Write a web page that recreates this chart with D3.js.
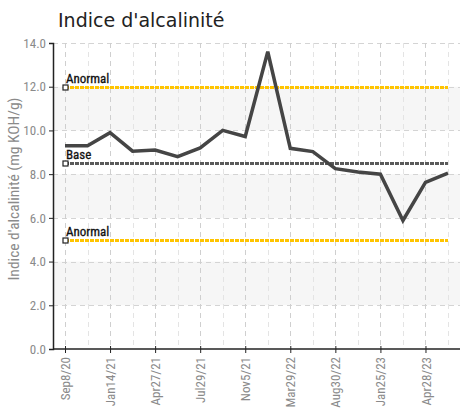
<!DOCTYPE html>
<html>
<head>
<meta charset="utf-8">
<script src="https://cdn.jsdelivr.net/npm/d3@7"></script>
<style>
	body { margin: 0; background: #fff; }
	.narrow { font-family: "Liberation Sans Narrow", "Roboto Condensed", "Liberation Sans", sans-serif; }
</style>
</head>
<body>
<div id="chart"></div>
<script>
// values, one per sample
var values = [9.3, 9.3, 9.9, 9.05, 9.1, 8.8, 9.2, 10.0, 9.72, 13.6, 9.18, 9.03, 8.25, 8.1, 8.0, 5.88, 7.62, 8.05];
// tick labels, shown on every second sample
var tickLabels = ['Sep8/20', 'Jan14/21', 'Apr27/21', 'Jul29/21', 'Nov5/21', 'Mar29/22', 'Aug30/22', 'Jan25/23', 'Apr28/23'];
var yTicks = [0, 2, 4, 6, 8, 10, 12, 14];
var refNames = ['Anormal', 'Base', 'Anormal'];
var refValues = [12, 8.5, 5];
var refColors = ['#ffc400', '#5a5a5a', '#ffc400'];

var width = 469, height = 411;
var plotLeft = 53, plotRight = 460, plotTop = 43, plotBottom = 349;

var svg = d3.select('#chart').append('svg')
	.attr('width', width)
	.attr('height', height);

var x = d3.scaleLinear()
	.domain([0, values.length - 1])
	.range([65, 448]);

var y = d3.scaleLinear()
	.domain([0, 14])
	.range([plotBottom, plotTop]);

// alternating bands
var bands = d3.range(0, 14, 2).filter(function(d, i) { return i % 2 === 1; });
svg.append('g').selectAll('rect')
	.data(bands)
	.enter().append('rect')
	.attr('x', plotLeft)
	.attr('width', plotRight - plotLeft)
	.attr('y', function(d) { return y(d + 2); })
	.attr('height', function(d) { return y(d) - y(d + 2); })
	.style('fill', '#f6f6f6');

// grid
var grid = svg.append('g');
grid.selectAll('line.h')
	.data(yTicks.slice(1))
	.enter().append('line')
	.attr('x1', plotLeft).attr('x2', plotRight)
	.attr('y1', function(d) { return Math.round(y(d)) + 0.5; })
	.attr('y2', function(d) { return Math.round(y(d)) + 0.5; })
	.style('stroke', '#d4d4d4')
	.style('stroke-dasharray', '5,4');

grid.selectAll('line.v')
	.data(d3.range(values.length))
	.enter().append('line')
	.attr('x1', function(d) { return Math.round(x(d)) + 0.5; })
	.attr('x2', function(d) { return Math.round(x(d)) + 0.5; })
	.attr('y1', plotTop).attr('y2', plotBottom)
	.style('stroke', function(d) { return d % 2 === 0 ? '#cfcfcf' : '#e4e4e4'; })
	.style('stroke-dasharray', '5,4');

// reference lines
var refs = svg.append('g');
refValues.forEach(function(v, i) {
	var ry = Math.round(y(v)) + 0.5;
	refs.append('line')
		.attr('x1', x(0)).attr('x2', x(values.length - 1))
		.attr('y1', ry).attr('y2', ry)
		.style('stroke', refColors[i])
		.style('stroke-width', 3)
		.style('stroke-dasharray', '4,1');
	refs.append('text')
		.attr('class', 'narrow')
		.attr('x', x(0) + 1)
		.attr('y', ry - 5)
		.style('font-size', '13px')
		.style('fill', '#111')
		.style('stroke', '#111')
		.style('stroke-width', 0.3)
		.text(refNames[i]);
});

// series
var line = d3.line()
	.x(function(d, i) { return x(i); })
	.y(function(d) { return y(d); });

svg.append('path')
	.datum(values)
	.attr('d', line)
	.style('fill', 'none')
	.style('stroke', '#454545')
	.style('stroke-width', 3.5)
	.style('stroke-linejoin', 'miter');

// markers on ref lines
refValues.forEach(function(v) {
	var ry = Math.round(y(v)) + 0.5;
	refs.append('rect')
		.attr('x', Math.round(x(0)) - 2).attr('y', ry - 2.5)
		.attr('width', 5).attr('height', 5)
		.style('fill', '#fff')
		.style('stroke', '#222')
		.style('stroke-width', 1.2);
});

// y axis
var yAxis = svg.append('g')
	.attr('transform', 'translate(' + plotLeft + ',0)')
	.call(d3.axisLeft(y).tickValues(yTicks).tickFormat(d3.format('.1f')).tickSize(4).tickPadding(3));
yAxis.select('.domain').style('stroke', '#222').style('stroke-width', 1.5);
yAxis.selectAll('.tick line').style('stroke', '#222');
yAxis.selectAll('text')
	.attr('class', 'narrow')
	.style('font-size', '13px')
	.style('fill', '#8a8a8a');

// x axis
var xAxis = svg.append('g')
	.attr('transform', 'translate(0,' + plotBottom + ')')
	.call(d3.axisBottom(x)
		.tickValues(tickLabels.map(function(d, i) { return i * 2; }))
		.tickFormat(function(d) { return tickLabels[d / 2]; })
		.tickSize(4));
xAxis.select('.domain')
	.attr('d', 'M' + plotLeft + ',0H' + plotRight)
	.style('stroke', '#222').style('stroke-width', 1.5);
xAxis.selectAll('.tick line').attr('y1', -3).style('stroke', '#222');
xAxis.selectAll('text')
	.attr('class', 'narrow')
	.style('font-size', '13px')
	.style('fill', '#8a8a8a')
	.style('text-anchor', 'end')
	.attr('dy', '0.35em')
	.attr('transform', 'translate(0,8) rotate(-90)')
	.attr('x', 0).attr('y', 0);

// titles
svg.append('text')
	.attr('x', 58).attr('y', 27)
	.style('font-family', '"DejaVu Sans", sans-serif')
	.style('font-size', '19px')
	.style('fill', '#222')
	.text("Indice d'alcalinité");

svg.append('text')
	.attr('class', 'narrow')
	.attr('transform', 'translate(19,189) rotate(-90)')
	.style('text-anchor', 'middle')
	.style('font-size', '15.5px')
	.style('fill', '#8a8a8a')
	.text("Indice d'alcalinité (mg KOH/g)");
</script>
</body>
</html>
